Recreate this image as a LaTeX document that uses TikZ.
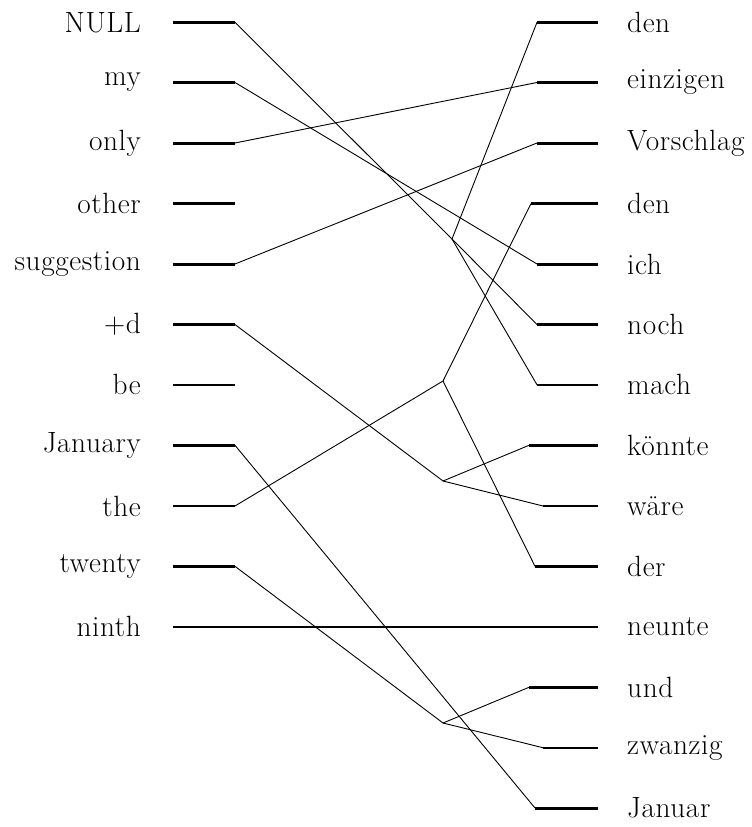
\documentclass[tikz,border=0pt]{standalone}
\usepackage{fontspec}
\setmainfont{Latin Modern Roman}[LetterSpace=2]
\begin{document}
\begin{tikzpicture}[x=1pt,y=-1pt,
  lab/.style={inner sep=0pt,font=\fontsize{29.3}{31}\selectfont},
  llab/.style={lab,anchor=east},
  rlab/.style={lab,anchor=west},
  thickstub/.style={line width=3pt},
  thinstub/.style={line width=2pt},
  link/.style={line width=0.9pt}]
\useasboundingbox (0,0) rectangle (752,827);
% row positions
\def\ra{22.3}\def\rb{82.5}\def\rc{143}\def\rd{203.5}\def\re{264}
\def\rf{324.5}\def\rg{384.8}\def\rh{445.3}\def\ri{506}\def\rj{566.3}
\def\rk{626.8}\def\rl{687.3}\def\rm{747.7}\def\rn{808}
% left labels
\node[llab] (lNULL) at (141,\ra) {NULL};
\node[llab] (lmy) at (141,\rb) {my};
\node[llab] (lonly) at (141,\rc) {only};
\node[llab] (lother) at (141,\rd) {other};
\node[llab] (lsugg) at (141,\re) {suggestion};
\node[llab] (lplusd) at (141,\rf) {+d};
\node[llab] (lbe) at (141,\rg) {be};
\node[llab] (ljan) at (141,\rh) {January};
\node[llab] (lthe) at (141,\ri) {the};
\node[llab] (ltwenty) at (141,\rj) {twenty};
\node[llab] (lninth) at (141,\rk) {ninth};
% right labels
\node[rlab] (rden) at (627,\ra) {den};
\node[rlab] (reinz) at (627,\rb) {einzigen};
\node[rlab] (rvor) at (627,\rc) {Vorschlag};
\node[rlab] (rden2) at (627,\rd) {den};
\node[rlab] (rich) at (627,\re) {ich};
\node[rlab] (rnoch) at (627,\rf) {noch};
\node[rlab] (rmach) at (627,\rg) {mach};
\node[rlab] (rkonnte) at (627,\rh) {könnte};
\node[rlab] (rware) at (627,\ri) {wäre};
\node[rlab] (rder) at (627,\rj) {der};
\node[rlab] (rneunte) at (627,\rk) {neunte};
\node[rlab] (rund) at (627,\rl) {und};
\node[rlab] (rzwanzig) at (627,\rm) {zwanzig};
\node[rlab] (rjanuar) at (627,\rn) {Januar};
% left stub coordinates
\foreach \n/\y in {NULL/\ra,my/\rb,only/\rc,other/\rd,sugg/\re,plusd/\rf,be/\rg,jan/\rh,the/\ri,twenty/\rj,ninth/\rk}{
  \coordinate (ls\n) at (173,\y);
  \coordinate (le\n) at (235,\y);
}
% right stub coordinates
\foreach \n/\x/\y in {den/537/\ra,einz/537/\rb,vor/537/\rc,den2/531/\rd,ich/537/\re,noch/537/\rf,mach/537/\rg,konnte/529/\rh,ware/543/\ri,der/535/\rj,und/529/\rl,zwanzig/543/\rm,januar/535/\rn}{
  \coordinate (rs\n) at (\x,\y);
  \coordinate (re\n) at (598,\y);
}
\coordinate (reneunte) at (598,\rk);
% junctions
\coordinate (j1) at (452,239);
\coordinate (j2) at (443,381);
\coordinate (j3) at (443,481);
\coordinate (j4) at (443,723);
% left stubs
\foreach \n in {NULL,my,only,other,sugg,plusd,jan,twenty}{\draw[thickstub] (ls\n) -- (le\n);}
\foreach \n in {be,the}{\draw[thinstub] (ls\n) -- (le\n);}
% right stubs
\foreach \n in {den,einz,vor,den2,ich,noch,konnte,der,und,januar}{\draw[thickstub] (rs\n) -- (re\n);}
\foreach \n in {mach,ware,zwanzig}{\draw[thinstub] (rs\n) -- (re\n);}
% ninth - neunte
\draw[thinstub] (lsninth) -- (reneunte);
% links
\draw[link] (leNULL) -- (j1);
\draw[link] (j1) -- (rsden);
\draw[link] (j1) -- (rsnoch);
\draw[link] (j1) -- (rsmach);
\draw[link] (lemy) -- (rsich);
\draw[link] (leonly) -- (rseinz);
\draw[link] (lesugg) -- (rsvor);
\draw[link] (lethe) -- (j2);
\draw[link] (j2) -- (rsden2);
\draw[link] (j2) -- (rsder);
\draw[link] (leplusd) -- (j3);
\draw[link] (j3) -- (rskonnte);
\draw[link] (j3) -- (rsware);
\draw[link] (lejan) -- (rsjanuar);
\draw[link] (letwenty) -- (j4);
\draw[link] (j4) -- (rsund);
\draw[link] (j4) -- (rszwanzig);
\end{tikzpicture}
\end{document}
